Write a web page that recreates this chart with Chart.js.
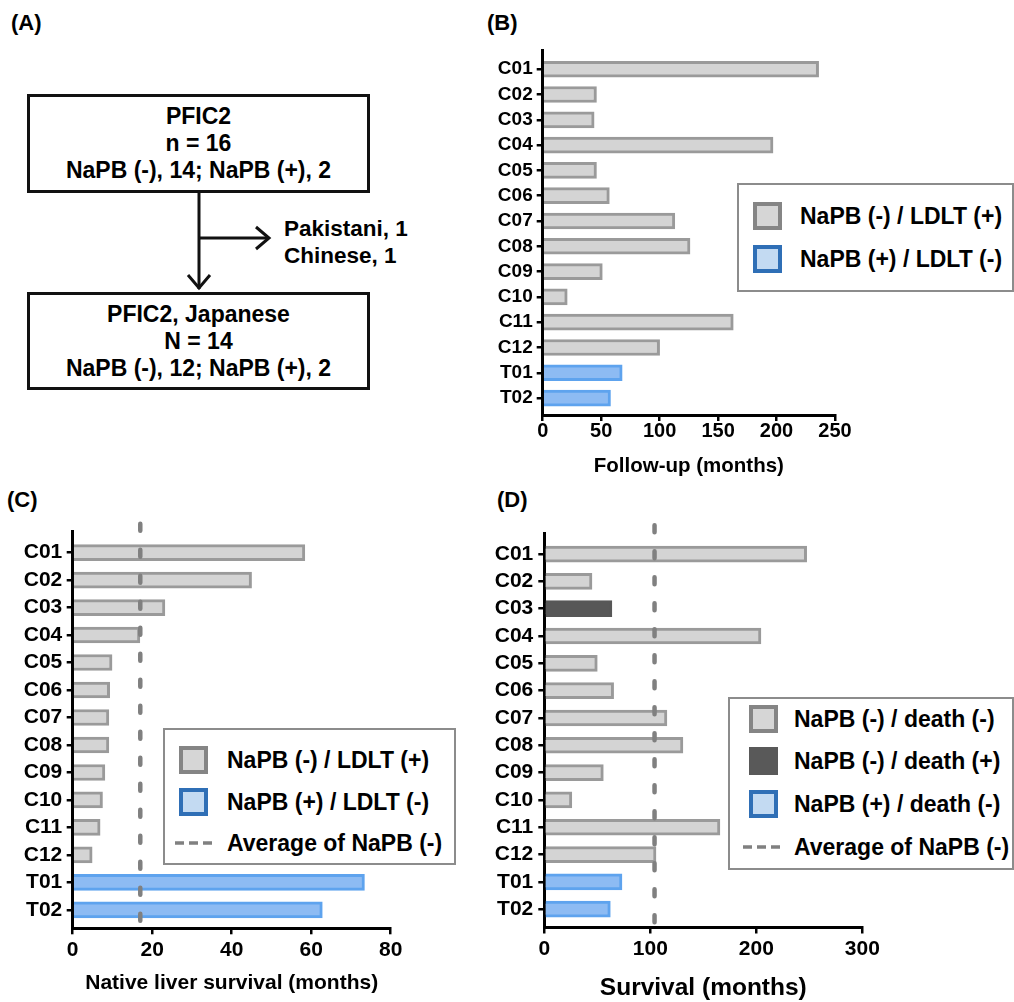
<!DOCTYPE html>
<html>
<head>
<meta charset="utf-8">
<title>PFIC2 - NaPB</title>
<script src="https://cdn.jsdelivr.net/npm/chart.js@4.4.1/dist/chart.umd.min.js"></script>
<style>
  body { margin: 0; width: 1014px; height: 1002px; position: relative; overflow: hidden; background: #fff;
         font-family: "Liberation Sans", Arial, sans-serif; font-weight: bold; color: #000; }
  .panel-label { position: absolute; font-size: 22px; line-height: 22px; }
  .flow-box { position: absolute; box-sizing: border-box; border: 3px solid #111; display: flex; flex-direction: column;
              justify-content: center; align-items: center; font-size: 23px; line-height: 27px; white-space: nowrap; }
  .flow-side { position: absolute; font-size: 22.5px; line-height: 27px; white-space: nowrap; }
  canvas { position: absolute; }
  .legend { position: absolute; box-sizing: border-box; border: 2px solid #8c8c8c; background: #fff; }
  .legend .sw { position: absolute; box-sizing: border-box; width: 29px; height: 28px; border: 4px solid #888; }
  .legend .txt { position: absolute; white-space: nowrap; line-height: 28px; }
  .legend svg { position: absolute; }
</style>
</head>
<body>

<!-- (A) flow chart -->
<div class="panel-label" style="left:11px;top:12px">(A)</div>
<div class="flow-box" style="left:27px;top:94px;width:343px;height:99px">
  <div>PFIC2</div><div>n = 16</div><div>NaPB (-), 14; NaPB (+), 2</div>
</div>
<svg style="position:absolute;left:0;top:0" width="480" height="480">
  <g fill="none" stroke="#111" stroke-width="3">
    <line x1="199" y1="193" x2="199" y2="289"/>
    <polyline points="188,275 199,288 210,275"/>
    <line x1="199" y1="238" x2="269" y2="238"/>
    <polyline points="256,227 269,238 256,249"/>
  </g>
</svg>
<div class="flow-side" style="left:284px;top:215px">Pakistani, 1</div>
<div class="flow-side" style="left:284px;top:242px">Chinese, 1</div>
<div class="flow-box" style="left:27px;top:292px;width:343px;height:98px">
  <div>PFIC2, Japanese</div><div>N = 14</div><div>NaPB (-), 12; NaPB (+), 2</div>
</div>

<div class="panel-label" style="left:487px;top:12px">(B)</div>
<div class="panel-label" style="left:7px;top:489px">(C)</div>
<div class="panel-label" style="left:497px;top:489px">(D)</div>

<canvas id="chartB" width="534" height="450" style="left:480px;top:30px"></canvas>
<canvas id="chartC" width="480" height="497" style="left:0px;top:505px"></canvas>
<canvas id="chartD" width="534" height="497" style="left:480px;top:505px"></canvas>

<script>
// patients (y axis)
const caseIds = ['C01', 'C02', 'C03', 'C04', 'C05', 'C06', 'C07', 'C08', 'C09', 'C10', 'C11', 'C12', 'T01', 'T02'];
// 1 = NaPB (+)
const napbGroup = [0, 0, 0, 0, 0, 0, 0, 0, 0, 0, 0, 0, 1, 1];
// 1 = death (+), panel D
const deathFlag = [0, 0, 1, 0, 0, 0, 0, 0, 0, 0, 0, 0, 0, 0];

// (B) follow-up (months)
const followUpMonths = [236, 46, 44, 197, 46, 57, 113, 126, 51, 21, 163, 100, 68, 58];
// (C) native liver survival (months)
const nativeLiverMonths = [58.4, 45, 23.2, 16.9, 9.9, 9.3, 9.1, 9.1, 8.1, 7.5, 6.9, 4.9, 73.4, 62.8];
const nativeLiverAvg = 17;
// (D) survival (months)
const survivalMonths = [247.5, 45, 63.8, 204.4, 50, 65.4, 115.7, 130.8, 55.7, 26, 165.7, 105.4, 73.3, 62.3];
const survivalAvg = 104;

// x axis ticks
const ticksB = [0, 50, 100, 150, 200, 250];
const ticksC = [0, 20, 40, 60, 80];
const ticksD = [0, 100, 200, 300];

const FONT = '"Liberation Sans", Arial, sans-serif';
const GREY_FILL = '#d4d4d4', GREY_EDGE = '#9a9a9a';
const BLUE_FILL = '#8dbbf3', BLUE_EDGE = '#5ea3ee';
const DARK_FILL = '#575757';
const DASH_GREY = '#808080';

// dashed "average" line, placed with the x scale
const avgLine = {
    id: 'avgLine',
    afterDatasetsDraw(chart, args, opts) {
        if (opts.value == null) return;
        const {ctx, chartArea} = chart;
        const x = chart.scales.x.getPixelForValue(opts.value);
        ctx.save();
        ctx.strokeStyle = DASH_GREY;
        ctx.lineWidth = 4.5;
        ctx.lineCap = 'round';
        ctx.setLineDash([7, 19]);
        ctx.beginPath();
        ctx.moveTo(x, chartArea.top - 8);
        ctx.lineTo(x, chartArea.bottom + 9);
        ctx.stroke();
        ctx.restore();
    }
};

function makeChart(id, g) {
    const fill = caseIds.map((c, i) => napbGroup[i] ? BLUE_FILL : (g.death && deathFlag[i] ? DARK_FILL : GREY_FILL));
    const edge = caseIds.map((c, i) => napbGroup[i] ? BLUE_EDGE : (g.death && deathFlag[i] ? DARK_FILL : GREY_EDGE));
    const axisGrid = { display: true, drawOnChartArea: false, drawTicks: true, tickLength: 6,
                       color: '#000', lineWidth: 2.5, tickWidth: 2.5, offset: false };
    const axisBorder = { display: true, color: '#000', width: 3 };

    return new Chart(document.getElementById(id), {
        type: 'bar',
        data: {
            datasets: [{
                data: g.values.map((v, i) => ({ x: v, y: i })),
                backgroundColor: fill,
                borderColor: edge,
                borderWidth: 3,
                borderSkipped: 'start',
                barThickness: 16
            }]
        },
        options: {
            indexAxis: 'y',
            responsive: false,
            animation: false,
            events: [],
            layout: { padding: { left: 0, top: g.padTop, right: g.padRight, bottom: g.padBottom } },
            plugins: {
                legend: { display: false },
                tooltip: { enabled: false },
                avgLine: { value: g.avg }
            },
            scales: {
                y: {
                    type: 'linear', reverse: true, min: -0.76, max: 13.67, offset: false,
                    afterBuildTicks: s => { s.ticks = caseIds.map((c, i) => ({ value: i })); },
                    afterFit: s => { s.width = g.yWidth; },
                    ticks: { callback: v => caseIds[v], color: '#000', autoSkip: false, padding: g.yPad,
                             font: { family: FONT, weight: 'bold', size: g.yFont, lineHeight: 1 } },
                    grid: axisGrid,
                    border: axisBorder
                },
                x: {
                    type: 'linear', min: g.ticks[0], max: g.ticks[g.ticks.length - 1], offset: false,
                    afterBuildTicks: s => { s.ticks = g.ticks.map(v => ({ value: v })); },
                    afterFit: s => { s.height = g.xHeight; },
                    ticks: { color: '#000', padding: g.xPad, maxRotation: 0,
                             font: { family: FONT, weight: 'bold', size: g.xFont, lineHeight: 1 } },
                    grid: axisGrid,
                    border: axisBorder,
                    title: { display: true, text: g.title, color: '#000', padding: 0,
                             font: { family: FONT, weight: 'bold', size: g.titleFont, lineHeight: 1 } }
                }
            }
        },
        plugins: [avgLine]
    });
}

makeChart('chartB', {
    values: followUpMonths, ticks: ticksB, title: 'Follow-up (months)',
    padTop: 20, padRight: 179, padBottom: 3.3, yWidth: 62.7, xHeight: 61.7,
    yFont: 19, xFont: 20, titleFont: 20.5, yPad: 4, xPad: 0.7
});
makeChart('chartC', {
    values: nativeLiverMonths, ticks: ticksC, title: 'Native liver survival (months)', avg: nativeLiverAvg,
    padTop: 26.7, padRight: 89.3, padBottom: 8.2, yWidth: 72.7, xHeight: 65.5,
    yFont: 21, xFont: 21, titleFont: 21, yPad: 4.4, xPad: 5.2
});
makeChart('chartD', {
    values: survivalMonths, ticks: ticksD, title: 'Survival (months)', avg: survivalAvg, death: true,
    padTop: 28.3, padRight: 151.7, padBottom: 2, yWidth: 64.3, xHeight: 72.5,
    yFont: 21, xFont: 21, titleFont: 24.5, yPad: 5, xPad: 5.7
});

// legends (boxes drawn as html, positions in page px)
const LEG_GREY = { fill: '#d6d6d6', edge: '#858585' };
const LEG_BLUE = { fill: '#c3daf2', edge: '#2f6fb6' };
const LEG_DARK = { fill: '#595959', edge: '#595959' };

function addLegend(box, rows) {
    const b = 2; // border width
    const el = document.createElement('div');
    el.className = 'legend';
    el.style.cssText = `left:${box.x}px;top:${box.y}px;width:${box.w}px;height:${box.h}px;font-size:${box.font}px`;
    rows.forEach(r => {
        const top = r.cy - 14 - b;
        if (r.dash) {
            const svg = document.createElementNS('http://www.w3.org/2000/svg', 'svg');
            svg.setAttribute('width', box.dashTo - box.dashFrom);
            svg.setAttribute('height', 28);
            svg.style.left = (box.dashFrom - b) + 'px';
            svg.style.top = top + 'px';
            svg.innerHTML = `<line x1="0" y1="14" x2="${box.dashTo - box.dashFrom}" y2="14" stroke="${DASH_GREY}" stroke-width="3.5" stroke-dasharray="9 5"/>`;
            el.appendChild(svg);
        } else {
            const sw = document.createElement('div');
            sw.className = 'sw';
            sw.style.cssText = `left:${box.sx - b}px;top:${top}px;background:${r.sw.fill};border-color:${r.sw.edge}`;
            el.appendChild(sw);
        }
        const t = document.createElement('div');
        t.className = 'txt';
        t.textContent = r.text;
        t.style.cssText = `left:${box.tx - b}px;top:${top}px`;
        el.appendChild(t);
    });
    document.body.appendChild(el);
}

addLegend({ x: 737, y: 183, w: 277, h: 109, font: 23, sx: 16, tx: 63 }, [
    { cy: 33, sw: LEG_GREY, text: 'NaPB (-) / LDLT (+)' },
    { cy: 76, sw: LEG_BLUE, text: 'NaPB (+) / LDLT (-)' }
]);
addLegend({ x: 163, y: 728, w: 293, h: 137, font: 23, sx: 16, tx: 64, dashFrom: 12, dashTo: 49 }, [
    { cy: 32, sw: LEG_GREY, text: 'NaPB (-) / LDLT (+)' },
    { cy: 74, sw: LEG_BLUE, text: 'NaPB (+) / LDLT (-)' },
    { cy: 115, dash: true, text: 'Average of NaPB (-)' }
]);
addLegend({ x: 728, y: 697, w: 286, h: 173, font: 23, sx: 21, tx: 66, dashFrom: 15, dashTo: 55 }, [
    { cy: 22, sw: LEG_GREY, text: 'NaPB (-) / death (-)' },
    { cy: 64, sw: LEG_DARK, text: 'NaPB (-) / death (+)' },
    { cy: 107, sw: LEG_BLUE, text: 'NaPB (+) / death (-)' },
    { cy: 150, dash: true, text: 'Average of NaPB (-)' }
]);
</script>
</body>
</html>
